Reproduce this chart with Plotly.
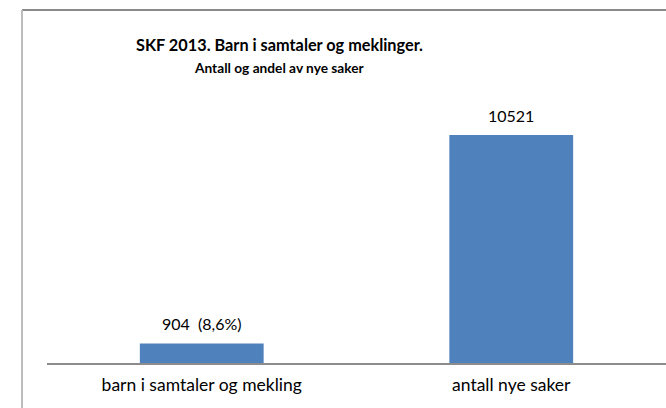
import plotly.graph_objects as go

# data
categories = ['barn i samtaler og mekling', 'antall nye saker']
values = [904, 10521]
bar_labels = ['904\u00a0\u00a0(8,6%)', '10521']

title = 'SKF 2013. Barn i samtaler og meklinger.'
subtitle = 'Antall og andel av nye saker'

font_family = 'Lato, Open Sans, sans-serif'
bar_color = '#4F81BD'

fig = go.Figure()
fig.add_trace(go.Bar(x=categories, y=values,
                     marker=dict(color=bar_color, line=dict(width=0)),
                     width=0.4, hoverinfo='skip'))

# value labels above the bars
for c, v, t in zip(categories, values, bar_labels):
    fig.add_annotation(x=c, y=v, text=t, showarrow=False,
                       yanchor='bottom', yshift=8,
                       font=dict(family=font_family, size=16, color='black'))

# chart title + subtitle (centered over chart area)
fig.add_annotation(xref='paper', yref='paper', x=0.376, y=1.226,
                   text='<b>' + title + '</b>', showarrow=False,
                   xanchor='center', yanchor='middle',
                   font=dict(family=font_family, size=16.3, color='black'))
fig.add_annotation(xref='paper', yref='paper', x=0.376, y=1.135,
                   text='<b>' + subtitle + '</b>', showarrow=False,
                   xanchor='center', yanchor='middle',
                   font=dict(family=font_family, size=13.7, color='black'))

# outer chart border (cropped at right and bottom in the reference)
fig.add_shape(type='line', xref='paper', yref='paper',
              x0=-0.0404, x1=1.1, y0=1.358, y1=1.358,
              line=dict(color='#8a8a8a', width=2))
fig.add_shape(type='line', xref='paper', yref='paper',
              x0=-0.0404, x1=-0.0404, y0=-0.3, y1=1.358,
              line=dict(color='#bdbdbd', width=2))

fig.update_layout(
    width=666, height=408,
    margin=dict(l=47, r=0, t=103, b=45),
    plot_bgcolor='white', paper_bgcolor='white',
    showlegend=False,
    font=dict(family=font_family, size=15, color='black'),
)
fig.update_xaxes(showline=True, linecolor='#8c8c8c', linewidth=1.5,
                 ticks='', showgrid=False, ticklabelstandoff=5,
                 tickfont=dict(family=font_family, size=17.5, color='black'))
fig.update_yaxes(range=[0, 12000], visible=False, showgrid=False)

fig.write_html('out.html', config={'displayModeBar': False},
               post_script="document.body.style.margin='0';")
